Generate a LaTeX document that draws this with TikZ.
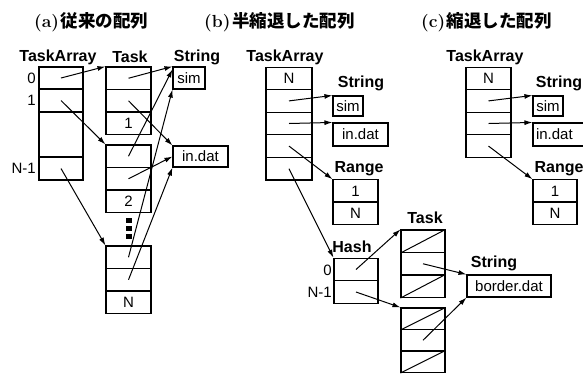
\documentclass[tikz,border=0pt]{standalone}
\usepackage{fontspec}
\setsansfont{Liberation Sans}
\newfontfamily\cjk{Noto Sans CJK JP}
\usetikzlibrary{arrows.meta}
\newcommand\cellfnt{\sffamily\fontsize{15}{17}\selectfont}
\newcommand\lblfnt{\sffamily\bfseries\fontsize{16}{18}\selectfont}
\newcommand\ttlfnt{\bfseries\fontsize{17.5}{20}\selectfont}
\newcommand\cjkfnt{\cjk\bfseries\fontsize{17.5}{20}\selectfont}
\tikzset{
  cell/.style={draw, line width=1.1pt, inner sep=0pt, font=\cellfnt},
  colw/.style={cell, minimum width=45pt, minimum height=22.5pt},
  colsh/.style={cell, minimum width=45pt, minimum height=21.5pt},
  strbox/.style={cell, minimum height=21pt},
  lbl/.style={font=\lblfnt, inner sep=0pt},
  idx/.style={font=\cellfnt, anchor=east, inner sep=1pt},
  ttl/.style={anchor=west, inner sep=0pt},
  ptr/.style={-{Latex[length=8pt,width=5pt]}, line width=1pt},
  nullp/.style={line width=1pt},
  dots/.style={line width=6pt, dash pattern=on 5pt off 3pt}
}
\begin{document}
\begin{tikzpicture}[x=1pt,y=-1pt]
\useasboundingbox (0,0) rectangle (583,373);
\clip (0,0) rectangle (583,373);
% ---------- titles
\node[ttl] (tA) at (34,22) {{\ttlfnt (a)}\,{\cjkfnt 従来の配列}};
\node[ttl] (tB) at (204,22) {{\ttlfnt (b)}\,{\cjkfnt 半縮退した配列}};
\node[ttl] (tC) at (421,22) {{\ttlfnt (c)}\,{\cjkfnt 縮退した配列}};
% ---------- panel (a)
\node[lbl] (lA1) at (58,57) {TaskArray};
\node[lbl] (lA2) at (130,57) {Task};
\node[lbl] (lA3) at (197,57) {String};
\node[cell, minimum width=44pt, minimum height=22pt] (ta0) at (61,78) {};
\node[cell, minimum width=44pt, minimum height=23pt] (ta1) at (61,100.5) {};
\node[cell, minimum width=44pt, minimum height=45pt] (tag) at (61,134.5) {};
\node[cell, minimum width=44pt, minimum height=23pt] (taN) at (61,168.5) {};
\node[idx] (ia0) at (37,78) {0};
\node[idx] (ia1) at (37,100) {1};
\node[idx] (iaN) at (37,168) {N-1};
\node[colw] (at1a) at (128.5,78.25) {};
\node[colw] (at1b) at (128.5,100.75) {};
\node[colw] (at1c) at (128.5,123.25) {1};
\node[colw] (at2a) at (128.5,156.25) {};
\node[colw] (at2b) at (128.5,178.75) {};
\node[colw] (at2c) at (128.5,201.25) {2};
\node[colw] (atNa) at (128.5,257.25) {};
\node[colw] (atNb) at (128.5,279.75) {};
\node[colw] (atNc) at (128.5,302.25) {N};
\coordinate (dA) at (128.5,218);
\coordinate (dB) at (128.5,239);
\draw[dots] (dA) -- (dB);
\node[strbox, minimum width=32pt, minimum height=22pt] (simA) at (189,78) {sim};
\node[strbox, minimum width=55pt] (inA) at (200.5,156.5) {in.dat};
\draw[ptr] (ta0.center) -- (at1a.north west);
\draw[ptr] (ta1.center) -- (at2a.north west);
\draw[ptr] (taN.center) -- (atNa.north west);
\draw[ptr] (at1a.center) -- (simA.north west);
\draw[ptr] (at2a.center) -- ([yshift=-3pt]simA.north west);
\draw[ptr] (atNa.center) -- (simA.south west);
\draw[ptr] (at1b.center) -- (inA.north west);
\draw[ptr] (at2b.center) -- (inA.west);
\draw[ptr] (atNb.center) -- (inA.south west);
% ---------- panel (b)
\node[lbl] (lB1) at (285,57) {TaskArray};
\node[colw, minimum width=46pt] (tb0) at (289,78.3) {N};
\node[colw, minimum width=46pt] (tb1) at (289,100.9) {};
\node[colw, minimum width=46pt] (tb2) at (289,123.5) {};
\node[colw, minimum width=46pt] (tb3) at (289,146.1) {};
\node[colw, minimum width=46pt] (tb4) at (289,168.7) {};
\node[lbl] (lB2) at (361,83) {String};
\node[strbox, minimum width=30pt, minimum height=20pt] (simB) at (348,106) {sim};
\node[strbox, minimum width=55pt, minimum height=23pt] (inB) at (360.5,134.5) {in.dat};
\node[lbl] (lB3) at (359,169) {Range};
\node[colw] (rb1) at (355.5,191) {1};
\node[colw] (rb2) at (355.5,213) {N};
\draw[ptr] (tb1.center) -- (simB.north west);
\draw[ptr] (tb2.center) -- (inB.north west);
\draw[ptr] (tb3.center) -- (rb1.north west);
\node[lbl] (lB4) at (352,247) {Hash};
\node[colw, minimum width=44pt] (hb0) at (356,269.5) {};
\node[colw, minimum width=44pt] (hb1) at (356,292) {};
\node[idx] (ib0) at (333,270) {0};
\node[idx] (ib1) at (333,292) {N-1};
\draw[ptr] (tb4.center) -- (hb0.north west);
\node[lbl] (lB5) at (425,218) {Task};
\node[colw, minimum width=44pt] (bt1a) at (423,241.25) {};
\node[colw, minimum width=44pt] (bt1b) at (423,263.75) {};
\node[colw, minimum width=44pt] (bt1c) at (423,286.25) {};
\node[colsh, minimum width=44pt] (bt2a) at (423,318.75) {};
\node[colsh, minimum width=44pt] (bt2b) at (423,340.25) {};
\node[colsh, minimum width=44pt] (bt2c) at (423,361.75) {};
\draw[nullp] (bt1a.south west) -- (bt1a.north east);
\draw[nullp] (bt1c.south west) -- (bt1c.north east);
\draw[nullp] (bt2a.south west) -- (bt2a.north east);
\draw[nullp] (bt2c.south west) -- (bt2c.north east);
\draw[ptr] (hb0.center) -- (bt1a.north west);
\draw[ptr] (hb1.center) -- (bt2a.north west);
\node[lbl] (lB6) at (494,263) {String};
\node[strbox, minimum width=84pt, minimum height=22pt] (bd) at (509,286) {border.dat};
\draw[ptr] (bt1b.center) -- (bd.north west);
\draw[ptr] (bt2b.center) -- (bd.south west);
% ---------- panel (c)
\node[lbl] (lC1) at (485,57) {TaskArray};
\node[colw] (tc0) at (488.5,78.3) {N};
\node[colw] (tc1) at (488.5,100.9) {};
\node[colw] (tc2) at (488.5,123.5) {};
\node[colw] (tc3) at (488.5,146.1) {};
\node[lbl] (lC2) at (559,83) {String};
\node[strbox, minimum width=30pt, minimum height=20pt] (simC) at (548,106) {sim};
\node[strbox, minimum width=55pt, minimum height=23pt, text width=49pt, align=left] (inC) at (560.5,134.5) {in.dat};
\node[lbl] (lC3) at (559,169) {Range};
\node[colw, minimum width=44pt] (rc1) at (555,191) {1};
\node[colw, minimum width=44pt] (rc2) at (555,213) {N};
\draw[ptr] (tc1.center) -- (simC.north west);
\draw[ptr] (tc2.center) -- (inC.north west);
\draw[ptr] (tc3.center) -- (rc1.north west);
\end{tikzpicture}
\end{document}
